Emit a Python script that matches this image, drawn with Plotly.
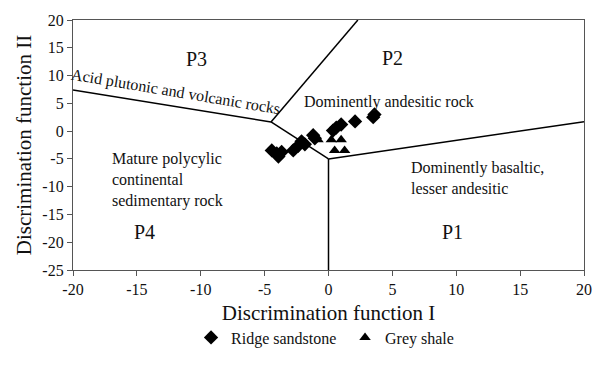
import plotly.graph_objects as go

# Data: discriminant function scores
sand_x = [3.5, 3.6, 2.08, 0.99, 0.61, 0.35, -1.2, -1.07, -2.11, -2.37, -1.85, -2.76, -3.67, -4.05, -4.44, -3.92]
sand_y = [2.5, 3.0, 1.75, 1.19, 0.64, 0.1, -0.73, -1.29, -1.83, -2.65, -2.37, -3.48, -3.76, -4.02, -3.48, -4.58]
shale_x = [-0.82, 0.22, 0.99, 0.48, 1.26]
shale_y = [-1.55, -1.55, -1.55, -3.48, -3.48]

# Field boundaries, each as a polyline
bound_A_x = [-20, -4.5]
bound_A_y = [7.4, 1.65]
bound_B_x = [-4.5, 2.3]
bound_B_y = [1.65, 20]
bound_C_x = [-4.5, 0]
bound_C_y = [1.65, -5]
bound_D_x = [0, 0]
bound_D_y = [-5, -25]
bound_E_x = [0, 20]
bound_E_y = [-5, 1.7]

x_ticks = [-20, -15, -10, -5, 0, 5, 10, 15, 20]
y_ticks = [-25, -20, -15, -10, -5, 0, 5, 10, 15, 20]

FONT = "'Liberation Serif', 'Times New Roman', 'DejaVu Serif', serif"

fig = go.Figure()
for bx, by in [(bound_A_x, bound_A_y), (bound_B_x, bound_B_y), (bound_C_x, bound_C_y),
               (bound_D_x, bound_D_y), (bound_E_x, bound_E_y)]:
    fig.add_trace(go.Scatter(x=bx, y=by, mode="lines", line=dict(color="black", width=1.5),
                             showlegend=False, hoverinfo="skip"))

fig.add_trace(go.Scatter(x=sand_x, y=sand_y, mode="markers", name="Ridge sandstone",
                         marker=dict(symbol="diamond", size=11, color="black")))
fig.add_trace(go.Scatter(x=shale_x, y=shale_y, mode="markers", name="Grey shale",
                         marker=dict(symbol="triangle-up", size=10, color="black")))

ann = [
    dict(x=-10.3, y=13.0, text="P3", size=20),
    dict(x=5.0, y=13.2, text="P2", size=20),
    dict(x=-14.4, y=-18.2, text="P4", size=20),
    dict(x=9.7, y=-18.2, text="P1", size=20),
]
annotations = []
for a in ann:
    annotations.append(dict(x=a["x"], y=a["y"], xref="x", yref="y", text=a["text"], showarrow=False,
                            font=dict(family=FONT, size=a["size"], color="#111")))
annotations.append(dict(x=-11.95, y=7.05, xref="x", yref="y", text="Acid plutonic and volcanic rocks",
                        showarrow=False, textangle=9.5, font=dict(family=FONT, size=16, color="#111")))
annotations.append(dict(x=-2.1, y=5.25, xref="x", yref="y", text="Dominently andesitic rock",
                        showarrow=False, xanchor="left", font=dict(family=FONT, size=16, color="#111")))
annotations.append(dict(x=-17.13, y=-8.75, xref="x", yref="y",
                        text="Mature polycylic<br>continental<br>sedimentary rock",
                        showarrow=False, xanchor="left", align="left",
                        font=dict(family=FONT, size=16, color="#111")))
annotations.append(dict(x=6.33, y=-8.4, xref="x", yref="y",
                        text="Dominently basaltic,<br>lesser andesitic",
                        showarrow=False, xanchor="left", align="left",
                        font=dict(family=FONT, size=16, color="#111")))

fig.update_layout(
    width=604, height=367,
    margin=dict(l=73, r=16, t=12, b=82),
    paper_bgcolor="white", plot_bgcolor="white",
    font=dict(family=FONT, color="#111"),
    annotations=annotations,
    showlegend=True,
    legend=dict(orientation="h", x=0.231, xanchor="left", y=-0.27, yanchor="middle",
                font=dict(family=FONT, size=16, color="#111"), entrywidth=109,
                itemwidth=30, bgcolor="rgba(0,0,0,0)"),
)
fig.update_xaxes(range=[-20, 20], tickvals=x_ticks, ticktext=[str(v) for v in x_ticks],
                 showgrid=False, zeroline=False, showline=True, linecolor="#555", linewidth=1.2,
                 mirror=True, ticks="outside", ticklen=5, tickcolor="#555",
                 tickfont=dict(family=FONT, size=16, color="#111"),
                 title=dict(text="Discrimination function I", font=dict(family=FONT, size=21, color="#111"),
                            standoff=8))
fig.update_yaxes(range=[-25, 20], tickvals=y_ticks, ticktext=[str(v) for v in y_ticks],
                 showgrid=False, zeroline=False, showline=True, linecolor="#555", linewidth=1.2,
                 mirror=True, ticks="outside", ticklen=5, tickcolor="#555",
                 tickfont=dict(family=FONT, size=16, color="#111"),
                 title=dict(text="Discrimination function II", font=dict(family=FONT, size=21, color="#111"),
                            standoff=5))

fig.write_html("out.html")
